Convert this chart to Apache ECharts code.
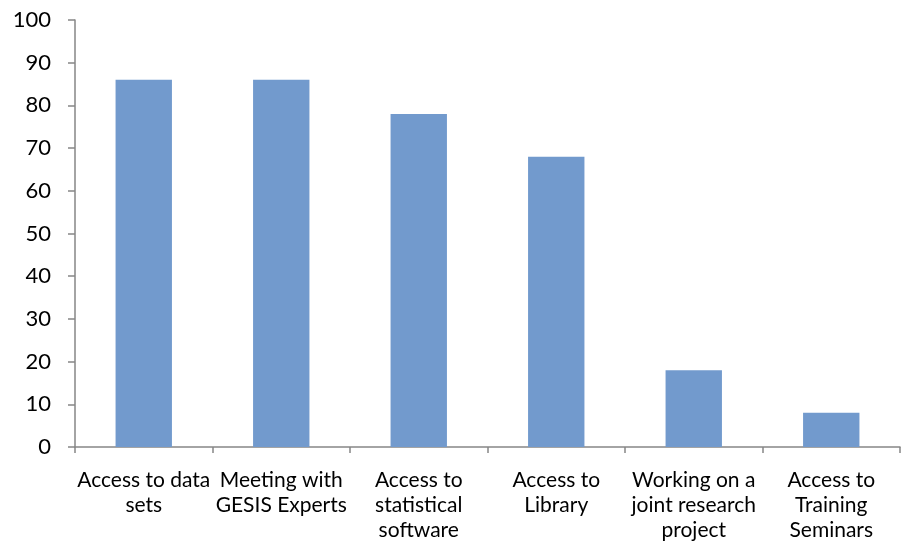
<!DOCTYPE html>
<html><head><meta charset="utf-8">
<script src="https://cdn.jsdelivr.net/npm/echarts@6/dist/echarts.min.js"></script>
<style>html,body{margin:0;padding:0;background:#fff}#c{width:912px;height:547px}</style>
</head><body><div id="c"></div>
<script>
const categories = ["Access to data\nsets", "Meeting with\nGESIS Experts", "Access to\nstatistical\nsoftware", "Access to\nLibrary", "Working on a\njoint research\nproject", "Access to\nTraining\nSeminars"];
const values = [86, 86, 78, 68, 18, 8];
const yTicks = {min: 0, max: 100, interval: 10};

const chart = echarts.init(document.getElementById('c'));
const font = "Lato, 'Open Sans', sans-serif";
chart.setOption({
  animation: false,
  grid: {left: 75, right: 12, top: 20, bottom: 100, containLabel: false},
  xAxis: {
    type: 'category', data: categories,
    axisLine: {lineStyle: {color: '#868686', width: 1.5}},
    axisTick: {show: true, alignWithLabel: false, length: 6, lineStyle: {color: '#868686', width: 1.5}},
    axisLabel: {interval: 0, color: '#000', fontFamily: font, fontSize: 21, lineHeight: 25, margin: 21}
  },
  yAxis: {
    type: 'value', min: yTicks.min, max: yTicks.max, interval: yTicks.interval,
    splitLine: {show: false},
    axisLine: {show: true, lineStyle: {color: '#868686', width: 1.5}},
    axisTick: {show: true, length: 7, lineStyle: {color: '#868686', width: 1.5}},
    axisLabel: {color: '#000', fontFamily: font, fontSize: 22, margin: 24}
  },
  series: [{
    type: 'bar', data: values, barWidth: '41%',
    itemStyle: {color: '#729acd'}
  }]
});
</script></body></html>
